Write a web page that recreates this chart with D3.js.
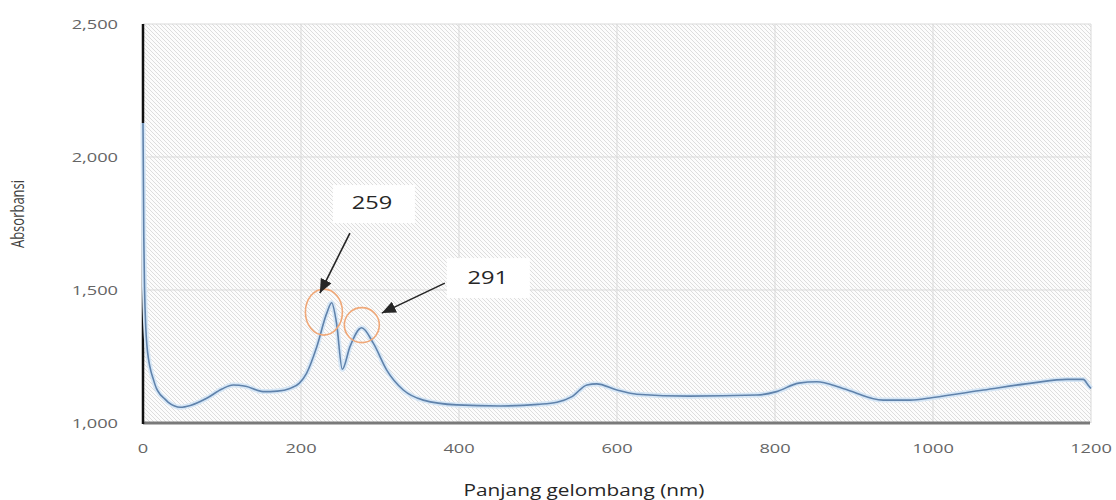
<!DOCTYPE html>
<html>
<head>
<meta charset="utf-8">
<script src="https://cdn.jsdelivr.net/npm/d3@7/dist/d3.min.js"></script>
<style>
  html, body { margin: 0; padding: 0; background: #ffffff; }
  svg { display: block; }
</style>
</head>
<body>
<svg id="chart" width="1116" height="500"></svg>
<script>
// ---- data ----
const wavelength = [0, 1, 2, 3.5, 5, 7, 10, 13, 17, 21, 26, 32, 40, 47, 60, 80.6, 100, 114, 130, 152, 170, 186, 198, 207, 220, 232.5, 238.8, 245, 252.3, 262, 276.8, 291.5, 308.5, 329.5, 354.8, 397, 452, 500, 524, 543, 562, 574, 600, 625, 692, 777, 802, 830, 853, 886, 937, 971, 1000, 1064, 1127, 1169, 1190, 1197, 1200];
const absorbance = [2128, 1700, 1500, 1360, 1290, 1240, 1195, 1165, 1130, 1110, 1095, 1078, 1064, 1059, 1066, 1093, 1128, 1143, 1138, 1118, 1120, 1130, 1150, 1187, 1287, 1412, 1452, 1375, 1202, 1287, 1358, 1300, 1199, 1124, 1086, 1068, 1064, 1070, 1078, 1099, 1143, 1147, 1124, 1108, 1101, 1105, 1118, 1150, 1155, 1130, 1086, 1086, 1096, 1124, 1151, 1164, 1164, 1140, 1130];
const xTickValues = [0, 200, 400, 600, 800, 1000, 1200];
const xTickLabels = ["0", "200", "400", "600", "800", "1000", "1200"];
const yTickValues = [1000, 1500, 2000, 2500];
const yTickLabels = ["1,000", "1,500", "2,000", "2,500"];
const xTitle = "Panjang gelombang (nm)";
const yTitle = "Absorbansi";
const peakLabels = ["259", "291"];
const peakX = [229, 277];
const peakY = [1417, 1368];

// ---- layout ----
const svg = d3.select("#chart");
const plotLeft = 143, plotRight = 1091, plotTop = 24, plotBottom = 423;
const stretch = 1.35; // reference image is horizontally stretched

const x = d3.scaleLinear().domain([0, 1200]).range([plotLeft, plotRight]);
const y = d3.scaleLinear().domain([1000, 2500]).range([plotBottom, plotTop]);

const defs = svg.append("defs");
const pat = defs.append("pattern")
  .attr("id", "hatch").attr("patternUnits", "userSpaceOnUse")
  .attr("width", 4).attr("height", 4);
pat.append("rect").attr("width", 4).attr("height", 4).attr("fill", "#fcfcfc");
pat.append("path")
  .attr("d", "M0,0 L4,4 M-1,3 L1,5 M3,-1 L5,1")
  .attr("stroke", "#d9d9d9").attr("stroke-width", 0.9);

defs.append("marker")
  .attr("id", "arrow").attr("markerUnits", "userSpaceOnUse")
  .attr("markerWidth", 16).attr("markerHeight", 12)
  .attr("refX", 14).attr("refY", 6).attr("orient", "auto")
  .append("path").attr("d", "M0,0 L14,6 L0,12 Z").attr("fill", "#262626");

// plot background
svg.append("rect")
  .attr("x", plotLeft).attr("y", plotTop)
  .attr("width", plotRight - plotLeft).attr("height", plotBottom - plotTop)
  .attr("fill", "url(#hatch)");

// gridlines
svg.append("g").selectAll("line").data(yTickValues.slice(1)).join("line")
  .attr("x1", plotLeft).attr("x2", plotRight)
  .attr("y1", d => y(d)).attr("y2", d => y(d))
  .attr("stroke", "#d9d9d9").attr("stroke-width", 1);
svg.append("g").selectAll("line").data(xTickValues.slice(1)).join("line")
  .attr("x1", d => x(d)).attr("x2", d => x(d))
  .attr("y1", plotTop).attr("y2", plotBottom)
  .attr("stroke", "#d9d9d9").attr("stroke-width", 1);

// axes lines
svg.append("line")
  .attr("x1", plotLeft).attr("x2", plotRight - 1)
  .attr("y1", plotBottom).attr("y2", plotBottom)
  .attr("stroke", "#7a7a7a").attr("stroke-width", 3);
svg.append("line")
  .attr("x1", plotLeft).attr("x2", plotLeft)
  .attr("y1", plotTop).attr("y2", plotBottom + 1)
  .attr("stroke", "#111111").attr("stroke-width", 2.5);

// data line
const pts = wavelength.map((w, i) => [w, absorbance[i]]);
const line = d3.line().x(d => x(d[0])).y(d => y(d[1])).curve(d3.curveMonotoneX);
svg.append("path").datum(pts).attr("d", line)
  .attr("fill", "none").attr("stroke", "#d6e6f5").attr("stroke-width", 5)
  .attr("stroke-linejoin", "round");
svg.append("path").datum(pts).attr("d", line)
  .attr("fill", "none").attr("stroke", "#5f82ab").attr("stroke-width", 1.6)
  .attr("stroke-linejoin", "round");

// tick labels
const tickFont = "'Open Sans', 'Noto Sans', sans-serif";
svg.append("g").selectAll("text").data(xTickValues).join("text")
  .attr("transform", d => `translate(${x(d)},453) scale(${stretch},1)`)
  .attr("text-anchor", "middle")
  .attr("font-family", tickFont).attr("font-size", 13.5)
  .attr("fill", "#656565")
  .text((d, i) => xTickLabels[i]);
svg.append("g").selectAll("text").data(yTickValues).join("text")
  .attr("transform", d => `translate(118,${y(d) + 5}) scale(${stretch},1)`)
  .attr("text-anchor", "end")
  .attr("font-family", tickFont).attr("font-size", 13.5)
  .attr("fill", "#656565")
  .text((d, i) => yTickLabels[i]);

// axis titles
svg.append("text")
  .attr("transform", `translate(584,496) scale(${stretch - 0.05},1)`)
  .attr("text-anchor", "middle")
  .attr("font-family", tickFont).attr("font-size", 16)
  .attr("fill", "#262626")
  .text(xTitle);
svg.append("text")
  .attr("transform", `translate(24,214) scale(${stretch},1) rotate(-90)`)
  .attr("text-anchor", "middle")
  .attr("font-family", tickFont).attr("font-size", 13)
  .attr("fill", "#404040")
  .text(yTitle);

// annotations
const boxOff = [[9, -127, 82, 38], [85, -67, 83, 40]];
const textOff = [[48, -103], [126, -41]];
const arrowOff = [[[26, -79], [-4, -19]], [[83, -42], [20, -12]]];
const radii = [[18.5, 23], [17.5, 17.5]];

peakLabels.forEach((lab, i) => {
  const cx = x(peakX[i]), cy = y(peakY[i]);
  svg.append("ellipse")
    .attr("cx", cx).attr("cy", cy)
    .attr("rx", radii[i][0]).attr("ry", radii[i][1])
    .attr("fill", "none").attr("stroke", "#f0a878").attr("stroke-width", 1.6);
  svg.append("rect")
    .attr("x", cx + boxOff[i][0]).attr("y", cy + boxOff[i][1])
    .attr("width", boxOff[i][2]).attr("height", boxOff[i][3])
    .attr("fill", "#ffffff");
  svg.append("text")
    .attr("transform", `translate(${cx + textOff[i][0]},${cy + textOff[i][1]}) scale(${stretch},1)`)
    .attr("text-anchor", "middle")
    .attr("font-family", tickFont).attr("font-size", 17.5)
    .attr("fill", "#262626")
    .text(lab);
  svg.append("line")
    .attr("x1", cx + arrowOff[i][0][0]).attr("y1", cy + arrowOff[i][0][1])
    .attr("x2", cx + arrowOff[i][1][0]).attr("y2", cy + arrowOff[i][1][1])
    .attr("stroke", "#262626").attr("stroke-width", 1.6)
    .attr("marker-end", "url(#arrow)");
});
</script>
</body>
</html>
